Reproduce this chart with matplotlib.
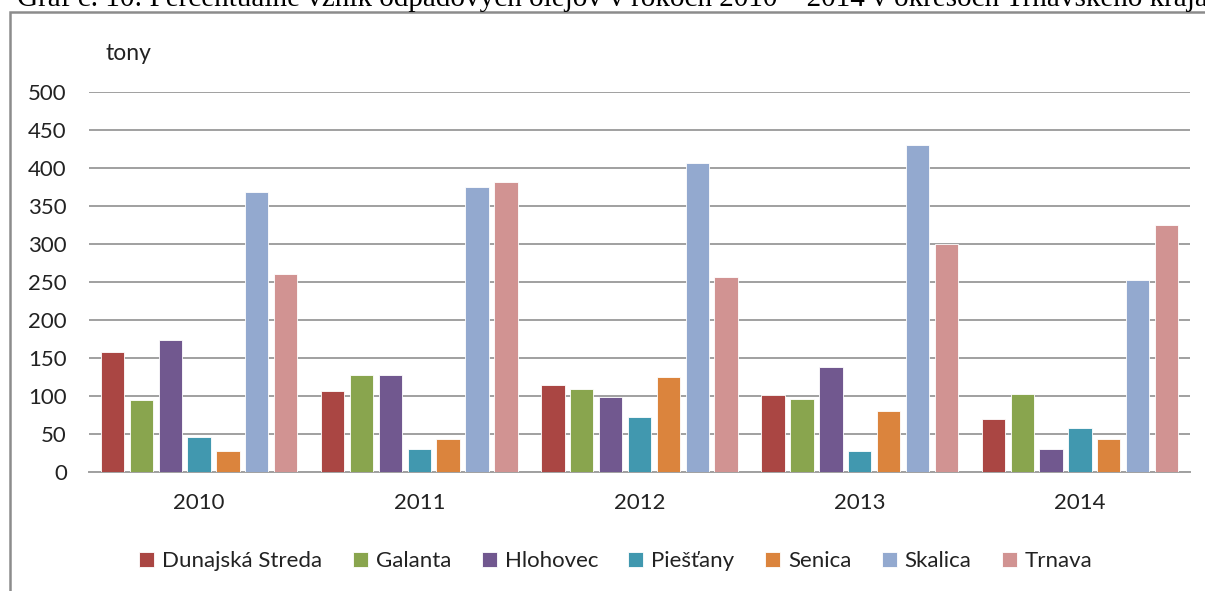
import matplotlib
matplotlib.use("Agg")
import matplotlib.pyplot as plt
from matplotlib.patches import Rectangle
import numpy as np

years = ["2010", "2011", "2012", "2013", "2014"]
districts = ["Dunajská Streda", "Galanta", "Hlohovec", "Piešťany", "Senica", "Skalica", "Trnava"]
dunajska_streda = [158, 106, 114, 101, 70]
galanta = [95, 127, 109, 96, 102]
hlohovec = [174, 127, 99, 138, 30]
piestany = [46, 30, 73, 28, 58]
senica = [28, 43, 125, 80, 44]
skalica = [369, 375, 407, 430, 252]
trnava = [260, 381, 257, 300, 325]
series = [dunajska_streda, galanta, hlohovec, piestany, senica, skalica, trnava]
colors = ["#AA4643", "#89A54E", "#71588F", "#4198AF", "#DB843D", "#93A9CF", "#D19392"]
yticks = [0, 50, 100, 150, 200, 250, 300, 350, 400, 450, 500]
title_text = "Graf č. 10: Percentuálne vznik odpadových olejov v rokoch 2010 – 2014 v okresoch Trnavského kraja"

plt.rcParams['font.family'] = ['Lato', 'DejaVu Sans']

W, H = 1205, 591
fig = plt.figure(figsize=(W / 100, H / 100), dpi=100)
fig.patch.set_facecolor("white")

# outer frame
fig.patches.append(Rectangle((10 / W, -0.1), 1.2, 1 - 12 / H + 0.1, transform=fig.transFigure,
                             fill=False, edgecolor="#8C8C8C", linewidth=1.8, zorder=0))
fig.text(17 / W, 1 - 6 / H, title_text, family=["Liberation Serif"], fontsize=21,
         va="baseline", ha="left", color="black")

ax = fig.add_axes([89 / W, 1 - 472 / H, (1190 - 89) / W, (472 - 92) / H])
x = np.arange(len(years))
step = 0.131
width = 0.106
n = len(series)
for i, (vals, c, name) in enumerate(zip(series, colors, districts)):
    ax.bar(x + (i - (n - 1) / 2) * step, vals, width, color=c, label=name,
           edgecolor="white", linewidth=0.6, zorder=3)

ax.set_xlim(-0.5, len(years) - 0.5)
ax.set_ylim(0, 500)
ax.set_yticks(yticks)
ax.set_yticklabels([str(v) for v in yticks], fontsize=16)
ax.set_xticks(x)
ax.set_xticklabels(years, fontsize=16)
ax.tick_params(axis="both", length=0, colors="#222222")
ax.tick_params(axis="y", pad=16)
ax.tick_params(axis="x", pad=15)
ax.grid(axis="y", color="#A0A0A0", linewidth=1.4, zorder=0)
ax.set_axisbelow(True)
for s in ["top", "right", "left"]:
    ax.spines[s].set_visible(False)
ax.spines["bottom"].set_color("#A0A0A0")
ax.spines["bottom"].set_linewidth(1.4)

fig.text(105 / W, 1 - 53 / H, "tony", fontsize=16.5, va="center", ha="left", color="#222222")

handles, labels = ax.get_legend_handles_labels()
leg = fig.legend(handles, labels, loc="center", bbox_to_anchor=(616 / W, 1 - 561 / H),
                 ncol=7, frameon=False, fontsize=16, handlelength=0.68, handleheight=0.68,
                 handletextpad=0.36, columnspacing=1.36)
for t in leg.get_texts():
    t.set_color("#222222")

fig.savefig("out.png", dpi=100, facecolor="white")
